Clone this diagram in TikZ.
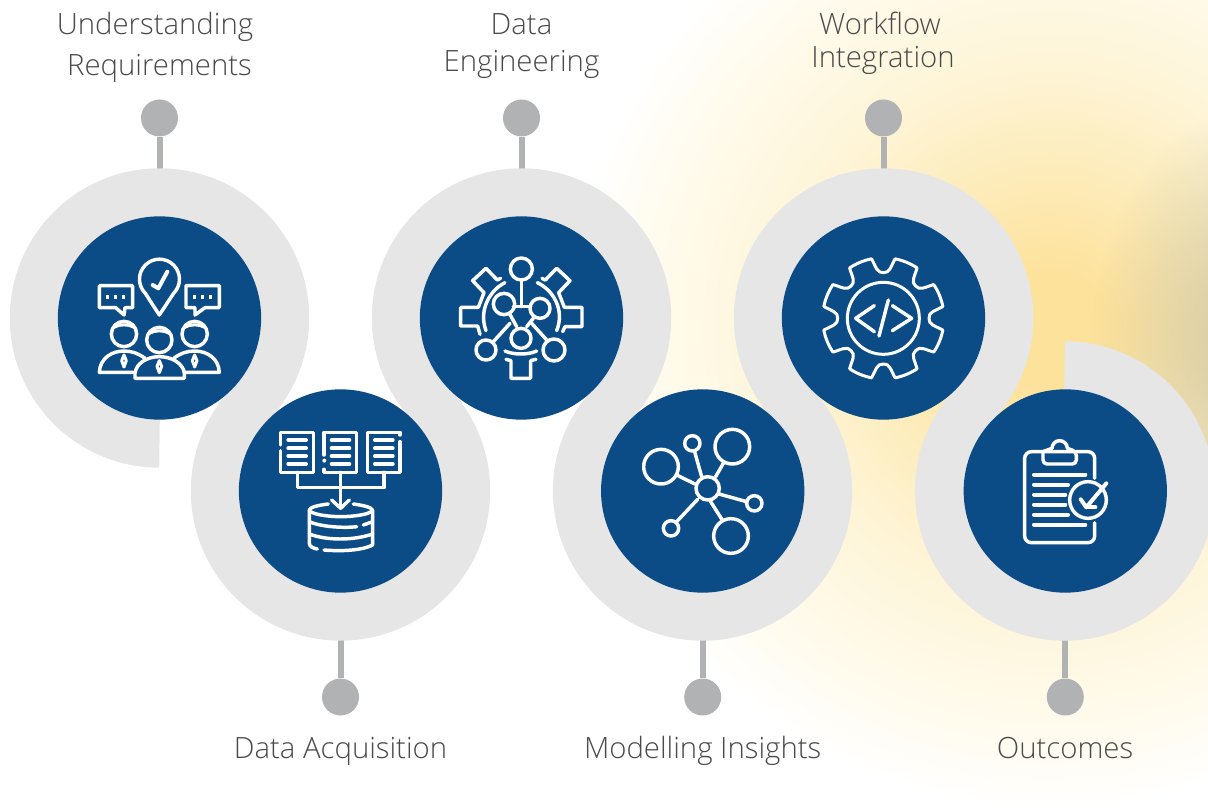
\documentclass[tikz,border=0pt]{standalone}
\usepackage{fontspec}
\setmainfont{Open Sans Light}
\usetikzlibrary{fadings}
\definecolor{navy}{HTML}{0B4C86}
\definecolor{ringgray}{HTML}{E6E6E6}
\definecolor{dotgray}{HTML}{B1B2B4}
\definecolor{labelgray}{HTML}{4A4A4A}
\definecolor{gA}{HTML}{FDE29C}
\definecolor{gB}{HTML}{FDEBB8}
\definecolor{gC}{HTML}{FEF5D8}
\definecolor{gD}{HTML}{FFFBEE}
\definecolor{dusk}{HTML}{A8A58C}
\pgfdeclareradialshading{glow}{\pgfpoint{0bp}{0bp}}{%
  color(0bp)=(gA); color(3bp)=(gA); color(8bp)=(gB); color(14bp)=(gC); color(21bp)=(gD); color(25bp)=(white); color(50bp)=(white)}
\tikzfading[name=duskfade, inner color=transparent!45, outer color=transparent!100]
\pgfdeclarelayer{back}
\pgfsetlayers{back,main}
\tikzset{
  core/.style={circle,fill=navy,minimum size=152.5pt,inner sep=0pt},
  pin/.style={circle,fill=dotgray,minimum size=27.75pt,inner sep=0pt},
  stem/.style={draw=dotgray,line width=4.5pt},
  lab/.style={text=labelgray,align=center,anchor=base},
  ico/.style={draw=white,line width=2.25pt,line cap=round,line join=round},
  icox/.style={ico,line width=2.6pt},
}
\begin{document}
\begin{tikzpicture}[x=0.75pt,y=-0.75pt]
\useasboundingbox (0,0) rectangle (1208,809);
% hubs
\node[core] (c1) at (159.5,318) {};
\node[core] (c2) at (340.5,491) {};
\node[core] (c3) at (521.5,318) {};
\node[core] (c4) at (702.7,491) {};
\node[core] (c5) at (883.5,318) {};
\node[core] (c6) at (1065.3,491) {};
% pins
\node[pin] (p1) at (159.5,118) {};
\node[pin] (p2) at (340.5,697) {};
\node[pin] (p3) at (521.5,118) {};
\node[pin] (p4) at (702.7,697) {};
\node[pin] (p5) at (883.5,118) {};
\node[pin] (p6) at (1065.3,697) {};
% labels
\node[lab,font=\fontsize{22}{30.75}\selectfont] (l1) at (155,76) {Understanding\\\hspace*{6.75pt}Requirements};
\node[lab,font=\fontsize{22}{27.75}\selectfont] (l3) at (521.5,72) {Data\\Engineering};
\node[lab,font=\fontsize{22}{24.75}\selectfont] (l5) at (880,68) {Workflow\\\hspace*{4.5pt}Integration};
\node[lab,font=\fontsize{22}{26}\selectfont] (l2) at (340.5,758) {Data Acquisition};
\node[lab,font=\fontsize{22}{26}\selectfont] (l4) at (702.7,758) {Modelling Insights};
\node[lab,font=\fontsize{22}{26}\selectfont] (l6) at (1065,758) {Outcomes};
\begin{pgfonlayer}{back}
  \begin{scope}
    \clip (0,0) rectangle (1208,809);
    \path[shading=glow] (1050,330) circle[radius=480];
    \fill[dusk,path fading=duskfade] (1262,335) ellipse[x radius=170,y radius=230];
  \end{scope}
  \foreach \n in {1,...,6} \draw[stem] (p\n) -- (c\n);
  \draw[ringgray,line width=36.75pt,line cap=butt,line join=round]
    (159.5,443.2)
    arc[start angle=90,end angle=403.7,radius=125.2]
    arc[start angle=223.7,end angle=-43.7,radius=125.2]
    arc[start angle=136.3,end angle=403.7,radius=125.2]
    arc[start angle=223.7,end angle=-43.7,radius=125.2]
    arc[start angle=136.3,end angle=403.7,radius=125.2]
    arc[start angle=223.7,end angle=-90,radius=125.2];
\end{pgfonlayer}
% icon 1: team and bubbles
\begin{scope}[shift={(50,210)},x=0.25pt,y=-0.25pt]
  \draw[icox] (328,315) -- (286,250) arc[start angle=135,end angle=405,radius=60] -- cycle;
  \draw[icox,line width=3pt] (308,225) -- (325,235) -- (352,185);
  \draw[icox] (248,293) -- (248,227) -- (148,227) -- (148,293) -- (197,293) -- (222,315) -- (225,293) -- cycle;
  \draw[icox] (408,293) -- (408,227) -- (508,227) -- (508,293) -- (465,293) -- (435,315) -- (435,293) -- cycle;
  \foreach \x in {173,197,221,434,458,482} \fill[white] (\x-5,256) rectangle (\x+5,266);
  \foreach \x/\y in {222/372,328/390,434/372} {
    \draw[icox] (\x,\y) circle[radius=38];
    \draw[ico] (\x-30,\y-20) .. controls (\x-14,\y-30) and (\x+14,\y-30) .. (\x+30,\y-20);
  }
  \draw[icox] (250,487) -- (148,487) .. controls (150,445) and (185,423) .. (222,423) .. controls (245,423) and (265,430) .. (285,445);
  \draw[icox] (406,487) -- (508,487) .. controls (506,445) and (471,423) .. (434,423) .. controls (411,423) and (391,430) .. (371,445);
  \draw[icox] (255,505) -- (403,505) -- (403,490) .. controls (400,460) and (365,440) .. (328,440) .. controls (291,440) and (258,460) .. (255,490) -- cycle;
  \foreach \x/\y in {222/435,434/435,328/452} \draw[ico] (\x,\y) -- (\x-7,\y+17) -- (\x,\y+36) -- (\x+7,\y+17) -- cycle;
\end{scope}
% icon 2: documents into database
\begin{scope}[shift={(230,380)},x=0.25pt,y=-0.25pt]
  \draw[icox] (152,195) -- (152,157) -- (250,157) -- (250,277) -- (152,277) -- (152,212);
  \draw[icox] (282,225) -- (282,157) -- (380,157) -- (380,277) -- (282,277) -- (282,268);
  \fill[white] (283,242) circle[radius=6];
  \draw[icox] (510,185) -- (510,277) -- (412,277) -- (412,157) -- (510,157) -- (510,165);
  \foreach \x in {175,305,435} \foreach \y in {180,205,228,252} \draw[icox,line width=3pt] (\x,\y) -- (\x+53,\y);
  \draw[icox] (203,277) -- (203,323) -- (462,323) -- (462,277);
  \draw[icox] (332,277) -- (332,385);
  \draw[icox] (305,360) -- (332,385) -- (358,360);
  \draw[icox] (295,372) .. controls (262,376) and (240,382) .. (238,390) .. controls (240,402) and (290,410) .. (332,410) .. controls (375,410) and (425,402) .. (427,390) .. controls (425,382) and (400,376) .. (370,372);
  \draw[icox] (238,390) -- (238,490) .. controls (238,500) and (250,505) .. (262,507);
  \draw[icox] (282,510) .. controls (340,515) and (400,510) .. (428,495) -- (428,390);
  \draw[icox] (238,425) .. controls (270,440) and (340,445) .. (380,440);
  \draw[icox] (400,435) -- (428,425);
  \draw[icox] (238,462) .. controls (290,482) and (370,482) .. (428,462);
\end{scope}
% icon 3: network in gear
\begin{scope}[shift={(410,210)},x=0.25pt,y=-0.25pt]
  \foreach \x/\y/\r in {334/177/33,282/282/32,390/295/30,333/385/30,228/420/30,432/420/33} \draw[icox] (\x,\y) circle[radius=\r];
  \draw[icox] (334,210) -- (334,290);
  \draw[icox] (310,290) -- (362,290);
  \draw[icox] (298,310) -- (320,350);
  \draw[icox] (370,325) -- (350,350);
  \draw[icox] (300,340) -- (250,395);
  \draw[icox] (365,340) -- (412,392);
  \draw[icox] (285,218) .. controls (240,240) and (205,300) .. (228,362);
  \draw[icox] (382,218) .. controls (430,240) and (465,300) .. (440,362);
  \draw[icox] (272,205) -- (262,210) -- (228,175) -- (188,212) -- (222,248) -- (205,292) -- (152,292) -- (152,348) -- (203,348) -- (210,373);
  \draw[icox] (396,205) -- (406,210) -- (440,175) -- (480,212) -- (446,248) -- (463,292) -- (516,292) -- (516,350) -- (465,350) -- (458,365);
  \draw[icox] (285,423) .. controls (310,435) and (355,435) .. (380,423);
  \draw[icox] (288,448) -- (303,452) -- (303,505) -- (362,505) -- (362,452) -- (378,448);
\end{scope}
% icon 4: hub and spokes
\begin{scope}[shift={(595,380)},x=0.25pt,y=-0.25pt]
  \foreach \x/\y/\r in {338/325/35,412/200/52,198/260/52,292/190/23,478/370/23,228/445/23,408/468/52} \draw[icox] (\x,\y) circle[radius=\r];
  \draw[icox] (320,290) -- (298,212);
  \draw[icox] (362,290) -- (385,250);
  \draw[icox] (300,312) -- (245,285);
  \draw[icox] (372,342) -- (455,365);
  \draw[icox] (308,358) -- (245,425);
  \draw[icox] (345,362) -- (382,420);
\end{scope}
% icon 5: gear with code
\begin{scope}[shift={(775,210)},x=0.25pt,y=-0.25pt]
  \begin{scope}[shift={(325,325)}]
    \draw[ico] (-11.2:182) \foreach \a in {0,45,...,315} {
      .. controls (\a-8:155) and (\a-8:137) .. (\a:137)
      .. controls (\a+8:137) and (\a+8:155) .. (\a+11.2:182)
      arc[start angle=\a+11.2,end angle=\a+33.8,radius=182] } -- cycle;
    \draw[ico] (0,0) circle[radius=108];
  \end{scope}
  \draw[icox] (298,287) -- (242,325) -- (298,365);
  \draw[icox] (352,287) -- (410,325) -- (352,362);
  \draw[icox] (340,270) -- (312,378);
\end{scope}
% icon 6: clipboard with tick
\begin{scope}[shift={(958,380)},x=0.25pt,y=-0.25pt]
  \draw[icox,rounded corners=5pt] (410,295) -- (410,215) -- (200,215) -- (200,488) -- (410,488) -- (410,428);
  \draw[icox,rounded corners=3pt] (255,215) -- (255,252) -- (355,252) -- (355,215) -- (328,205);
  \draw[icox] (255,215) -- (282,205) arc[start angle=180,end angle=360,radius=23];
  \foreach \y/\e in {284/382,314/330,344/322,374/322,404/330,434/382} \draw[icox,line width=3pt] (228,\y) -- (\e,\y);
  \draw[icox] (390,360) circle[radius=55];
  \draw[icox,line width=3pt] (368,358) -- (385,382) -- (445,310);
  \draw[icox,line width=3pt] (385,382) -- (412,382);
\end{scope}
\end{tikzpicture}
\end{document}
